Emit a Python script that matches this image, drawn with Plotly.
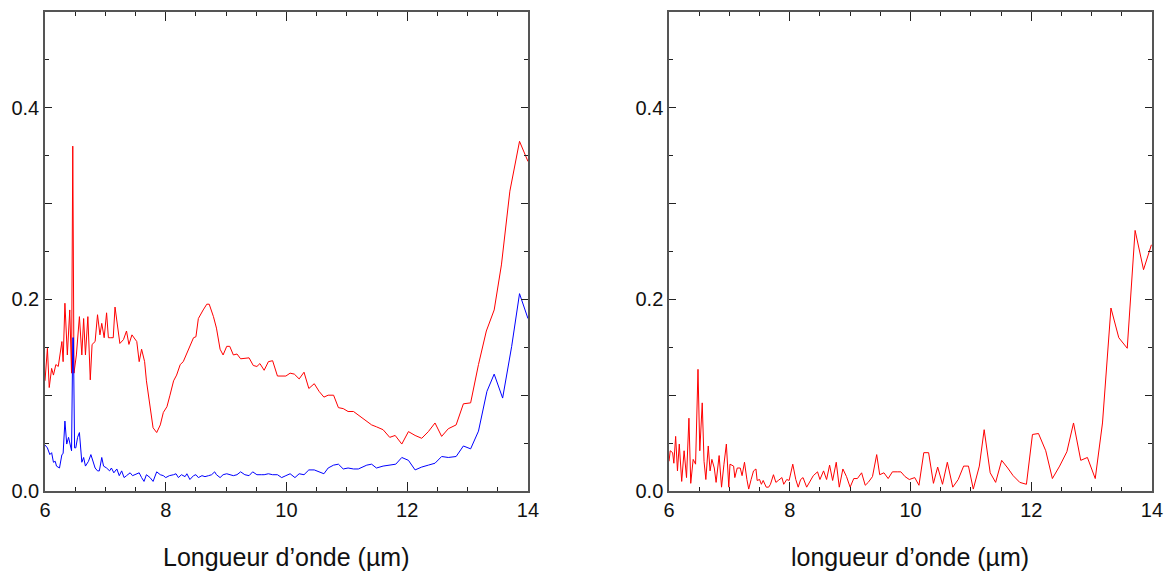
import plotly.graph_objects as go

# Left panel, red series
red_left_x = [6.00, 6.04, 6.07, 6.11, 6.14, 6.18, 6.22, 6.28, 6.30, 6.33, 6.37, 6.41, 6.44, 6.46, 6.48,
              6.52, 6.57, 6.61, 6.64, 6.67, 6.71, 6.75, 6.78, 6.83, 6.87, 6.91, 6.94, 6.98, 7.02, 7.05,
              7.09, 7.13, 7.16, 7.20, 7.24, 7.30, 7.35, 7.39, 7.44, 7.52, 7.56, 7.60, 7.65, 7.68, 7.74,
              7.79, 7.85, 7.91, 7.96, 8.02, 8.07, 8.13, 8.18, 8.24, 8.29, 8.35, 8.40, 8.46, 8.50, 8.54,
              8.62, 8.68, 8.72, 8.79, 8.84, 8.90, 8.95, 9.01, 9.06, 9.12, 9.18, 9.24, 9.38, 9.45, 9.51,
              9.56, 9.63, 9.70, 9.77, 9.85, 9.99, 10.06, 10.13, 10.21, 10.29, 10.37, 10.46, 10.54, 10.62,
              10.69, 10.78, 10.86, 10.94, 11.02, 11.11, 11.22, 11.33, 11.41, 11.49, 11.60, 11.71, 11.80,
              11.91, 12.02, 12.13, 12.24, 12.35, 12.46, 12.57, 12.68, 12.81, 12.93, 13.05, 13.18, 13.31,
              13.44, 13.56, 13.70, 13.86, 14.00]
red_left_y = [0.115, 0.149, 0.108, 0.128, 0.121, 0.132, 0.130, 0.156, 0.135, 0.196, 0.142, 0.189, 0.123, 0.360, 0.123,
              0.142, 0.182, 0.142, 0.180, 0.142, 0.182, 0.116, 0.153, 0.156, 0.184, 0.163, 0.175, 0.160, 0.186, 0.160,
              0.160, 0.160, 0.192, 0.173, 0.154, 0.158, 0.167, 0.153, 0.163, 0.156, 0.135, 0.148, 0.135, 0.115, 0.090,
              0.066, 0.061, 0.069, 0.082, 0.088, 0.100, 0.115, 0.121, 0.132, 0.135, 0.144, 0.151, 0.160, 0.161, 0.180,
              0.189, 0.195, 0.195, 0.182, 0.170, 0.148, 0.142, 0.151, 0.151, 0.142, 0.143, 0.138, 0.139, 0.131, 0.130,
              0.133, 0.126, 0.135, 0.136, 0.120, 0.120, 0.123, 0.122, 0.117, 0.124, 0.107, 0.112, 0.104, 0.098,
              0.100, 0.100, 0.087, 0.086, 0.083, 0.083, 0.078, 0.073, 0.069, 0.067, 0.064, 0.056, 0.058,
              0.049, 0.062, 0.058, 0.055, 0.062, 0.071, 0.057, 0.065, 0.069, 0.091, 0.092, 0.132, 0.167,
              0.189, 0.236, 0.313, 0.365, 0.344]

# Left panel, blue series
blue_left_x = [6.00, 6.04, 6.08, 6.11, 6.14, 6.17, 6.19, 6.24, 6.28, 6.30, 6.33, 6.36, 6.39, 6.41, 6.44, 6.46, 6.47,
               6.49, 6.51, 6.54, 6.57, 6.61, 6.64, 6.67, 6.72, 6.76, 6.80, 6.83, 6.87, 6.90, 6.94, 6.97, 7.02,
               7.07, 7.10, 7.14, 7.19, 7.23, 7.27, 7.31, 7.35, 7.41, 7.45, 7.49, 7.56, 7.60, 7.64, 7.68, 7.74,
               7.79, 7.85, 7.91, 7.96, 8.00, 8.06, 8.13, 8.17, 8.21, 8.26, 8.32, 8.35, 8.40, 8.46, 8.50, 8.54,
               8.60, 8.65, 8.71, 8.76, 8.81, 8.84, 8.90, 8.95, 9.01, 9.06, 9.12, 9.18, 9.24, 9.31, 9.38, 9.44,
               9.51, 9.59, 9.63, 9.70, 9.77, 9.85, 9.92, 9.99, 10.06, 10.14, 10.21, 10.29, 10.37, 10.46, 10.54,
               10.62, 10.69, 10.78, 10.86, 10.94, 11.02, 11.11, 11.19, 11.27, 11.33, 11.41, 11.49, 11.60, 11.71,
               11.81, 11.91, 12.02, 12.13, 12.24, 12.35, 12.46, 12.57, 12.68, 12.81, 12.93, 13.05, 13.18, 13.32,
               13.44, 13.58, 13.73, 13.86, 14.00]
blue_left_y = [0.048, 0.045, 0.038, 0.040, 0.030, 0.031, 0.026, 0.024, 0.038, 0.039, 0.073, 0.049, 0.056, 0.049, 0.042, 0.160, 0.160,
               0.045, 0.045, 0.056, 0.061, 0.030, 0.035, 0.026, 0.031, 0.038, 0.030, 0.024, 0.021, 0.021, 0.035, 0.026, 0.024,
               0.021, 0.024, 0.019, 0.023, 0.016, 0.021, 0.014, 0.016, 0.019, 0.016, 0.017, 0.019, 0.014, 0.010, 0.017, 0.014,
               0.010, 0.020, 0.017, 0.016, 0.014, 0.016, 0.017, 0.018, 0.014, 0.017, 0.015, 0.018, 0.012, 0.016, 0.017, 0.014,
               0.016, 0.015, 0.016, 0.017, 0.020, 0.017, 0.014, 0.017, 0.018, 0.017, 0.016, 0.017, 0.020, 0.017, 0.016, 0.020,
               0.017, 0.017, 0.017, 0.018, 0.017, 0.017, 0.014, 0.016, 0.018, 0.014, 0.018, 0.017, 0.022, 0.022, 0.020,
               0.018, 0.024, 0.027, 0.028, 0.023, 0.024, 0.023, 0.023, 0.025, 0.027, 0.028, 0.024, 0.026, 0.027,
               0.028, 0.035, 0.032, 0.022, 0.025, 0.027, 0.029, 0.036, 0.035, 0.036, 0.047, 0.044, 0.0625, 0.104,
               0.122, 0.097, 0.151, 0.206, 0.180]

# Right panel, red series
red_right_x = [6.00, 6.02, 6.06, 6.08, 6.11, 6.14, 6.17, 6.21, 6.25, 6.29, 6.33, 6.36, 6.40, 6.44, 6.48, 6.51,
               6.55, 6.58, 6.61, 6.65, 6.68, 6.71, 6.75, 6.78, 6.83, 6.87, 6.91, 6.95, 6.99, 7.01, 7.07, 7.09,
               7.13, 7.18, 7.21, 7.25, 7.29, 7.32, 7.36, 7.40, 7.44, 7.46, 7.50, 7.53, 7.56, 7.61, 7.65, 7.68,
               7.73, 7.77, 7.81, 7.87, 7.90, 7.95, 7.99, 8.05, 8.10, 8.14, 8.18, 8.22, 8.28, 8.34, 8.39, 8.46,
               8.50, 8.56, 8.61, 8.66, 8.71, 8.77, 8.82, 8.88, 8.94, 9.00, 9.06, 9.12, 9.19, 9.25, 9.30, 9.37,
               9.44, 9.49, 9.56, 9.63, 9.70, 9.78, 9.84, 9.91, 9.98, 10.07, 10.14, 10.22, 10.30, 10.38, 10.45,
               10.53, 10.61, 10.70, 10.79, 10.88, 10.96, 11.04, 11.14, 11.22, 11.32, 11.41, 11.51, 11.61, 11.70,
               11.81, 11.92, 12.02, 12.12, 12.24, 12.35, 12.47, 12.59, 12.70, 12.82, 12.93, 13.06, 13.18, 13.32,
               13.45, 13.59, 13.72, 13.86, 13.99]
red_right_y = [0.031, 0.042, 0.040, 0.029, 0.057, 0.021, 0.049, 0.010, 0.042, 0.014, 0.076, 0.008, 0.033, 0.028, 0.127, 0.042,
               0.092, 0.031, 0.012, 0.047, 0.021, 0.033, 0.024, 0.009, 0.037, 0.004, 0.028, 0.049, 0.004, 0.028, 0.026, 0.014,
               0.024, 0.024, 0.016, 0.030, 0.012, 0.002, 0.012, 0.021, 0.023, 0.011, 0.012, 0.007, 0.011, 0.004, 0.004, 0.007,
               0.017, 0.009, 0.011, 0.014, 0.007, 0.012, 0.011, 0.028, 0.012, 0.004, 0.012, 0.014, 0.004, 0.010, 0.016, 0.020,
               0.012, 0.021, 0.012, 0.027, 0.011, 0.030, 0.004, 0.023, 0.015, 0.004, 0.013, 0.013, 0.019, 0.006, 0.009, 0.015,
               0.038, 0.017, 0.019, 0.013, 0.020, 0.020, 0.020, 0.015, 0.012, 0.014, 0.006, 0.040, 0.040, 0.008, 0.025,
               0.007, 0.030, 0.004, 0.012, 0.026, 0.026, 0.002, 0.026, 0.064, 0.019, 0.009, 0.032, 0.024, 0.016,
               0.009, 0.007, 0.059, 0.060, 0.042, 0.013, 0.026, 0.041, 0.071, 0.032, 0.035, 0.013, 0.071, 0.191,
               0.160, 0.149, 0.272, 0.231, 0.257]

x_tick_vals = [6, 8, 10, 12, 14]
y_tick_vals = [0.0, 0.1, 0.2, 0.3, 0.4, 0.5]
y_tick_text = ["0.0", "", "0.2", "", "0.4", ""]
title_left = "Longueur d’onde (µm)"
title_right = "longueur d’onde (µm)"

FONT = "Liberation Sans, Arial, sans-serif"
AXC = "#555555"

fig = go.Figure()
fig.add_trace(go.Scatter(x=red_left_x, y=red_left_y, mode="lines",
                         line=dict(color="#ff0000", width=1), xaxis="x", yaxis="y", showlegend=False))
fig.add_trace(go.Scatter(x=blue_left_x, y=blue_left_y, mode="lines",
                         line=dict(color="#0000ff", width=1), xaxis="x", yaxis="y", showlegend=False))
fig.add_trace(go.Scatter(x=red_right_x, y=red_right_y, mode="lines",
                         line=dict(color="#ff0000", width=1), xaxis="x2", yaxis="y2", showlegend=False))

def xax(domain, anchor):
    return dict(domain=domain, anchor=anchor, range=[6, 14], tickmode="array", tickvals=x_tick_vals,
                ticks="inside", ticklen=9, tickwidth=1.2, tickcolor="#222",
                showline=True, linecolor=AXC, linewidth=1.5, mirror="allticks",
                showgrid=False, zeroline=False,
                tickfont=dict(family=FONT, size=20, color="#111"),
                minor=dict(tickmode="linear", tick0=6, dtick=0.5, ticks="inside", ticklen=4,
                           tickcolor="#222", tickwidth=1.2, showgrid=False))

def yax(anchor):
    return dict(domain=[0, 1], anchor=anchor, range=[0, 0.5], tickmode="array", tickvals=y_tick_vals,
                ticktext=y_tick_text, ticks="inside", ticklen=7, tickwidth=1.2, tickcolor="#222",
                showline=True, linecolor=AXC, linewidth=1.5, mirror="allticks",
                showgrid=False, zeroline=False,
                tickfont=dict(family=FONT, size=20, color="#111"),
                minor=dict(tickmode="linear", tick0=0, dtick=0.05, ticks="inside", ticklen=4,
                           tickcolor="#222", tickwidth=1.2, showgrid=False))

fig.update_layout(
    width=1157, height=565,
    margin=dict(l=37, r=13, t=2, b=82),
    paper_bgcolor="white", plot_bgcolor="white",
    xaxis=xax([0, 0.4363], "y"),
    yaxis=yax("x"),
    xaxis2=xax([0.5637, 1], "y2"),
    yaxis2=yax("x2"),
    annotations=[
        dict(text=title_left, xref="paper", yref="paper", x=0.2182, y=-0.137, showarrow=False,
             xanchor="center", yanchor="middle", font=dict(family=FONT, size=25, color="#111")),
        dict(text=title_right, xref="paper", yref="paper", x=0.7818, y=-0.137, showarrow=False,
             xanchor="center", yanchor="middle", font=dict(family=FONT, size=25, color="#111")),
    ],
)

fig.write_html("out.html")
